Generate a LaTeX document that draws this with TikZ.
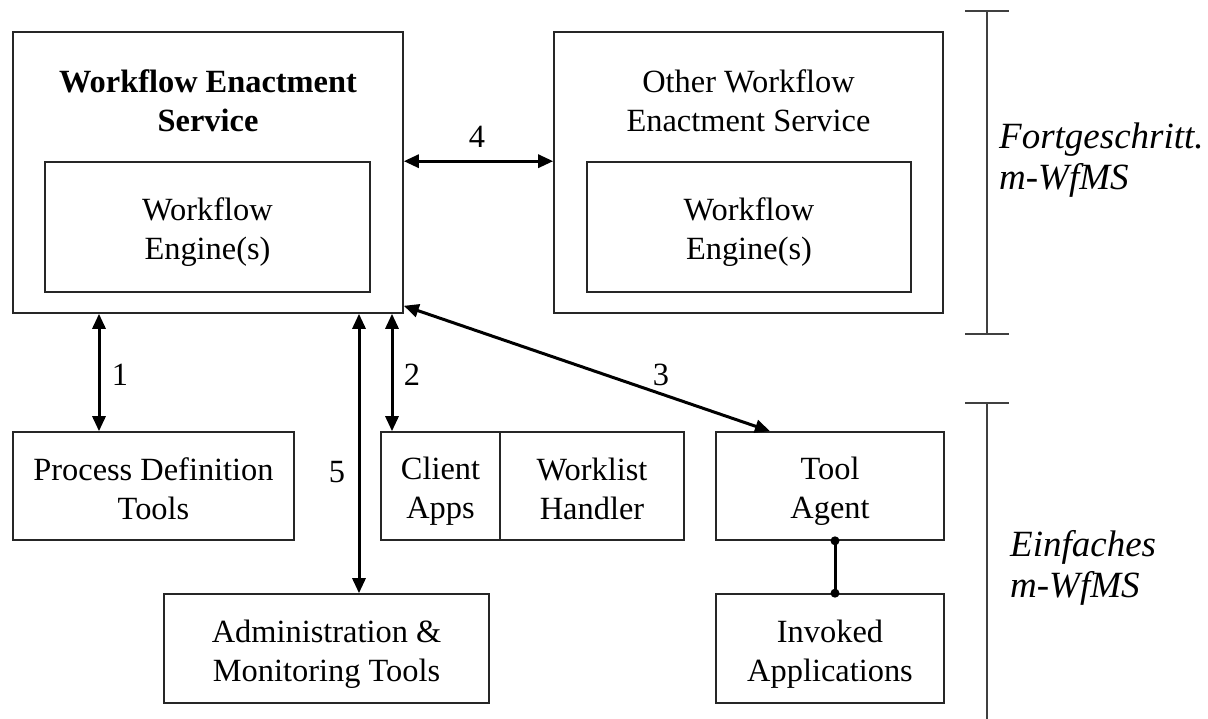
\documentclass[tikz,border=0pt]{standalone}
\usepackage{fontspec}
\setmainfont{Liberation Serif}
\usetikzlibrary{arrows.meta,calc}
\newcommand{\boxline}[1]{\rule[-.15\baselineskip]{0pt}{\baselineskip}#1}
\begin{document}
\begin{tikzpicture}[x=1pt,y=-1pt,
  box/.style={draw=black!85,line width=1.6pt,inner sep=0pt,align=center,
    font=\fontsize{32.4}{39}\selectfont},
  biarrow/.style={line width=3pt,{Triangle[length=15pt,width=13pt]}-{Triangle[length=15pt,width=13pt]}},
  num/.style={font=\fontsize{32.4}{39}\selectfont,inner sep=0pt},
  tag/.style={font=\fontsize{37}{41}\itshape\selectfont,inner sep=0pt,anchor=west,align=left},
  brack/.style={draw=black!75,line width=1.8pt}
]
\useasboundingbox (0,0) rectangle (1208,719);

% main boxes
\node[box,minimum width=390pt,minimum height=281pt] (wes) at (208,172.5) {};
\node[font=\fontsize{32.4}{39}\bfseries\selectfont,align=center,inner sep=0pt] (wesl) at (208,101) {Workflow Enactment\\Service};
\node[box,minimum width=325pt,minimum height=130pt] (we1) at (207.5,227) {\boxline{Workflow}\\\boxline{Engine(s)}};

\node[box,minimum width=389pt,minimum height=281pt] (owes) at (748.5,172.5) {};
\node[font=\fontsize{32.4}{39}\selectfont,align=center,inner sep=0pt] (owesl) at (748.5,101) {Other Workflow\\Enactment Service};
\node[box,minimum width=324pt,minimum height=130pt] (we2) at (749,227) {\boxline{Workflow}\\\boxline{Engine(s)}};

% lower boxes
\node[box,minimum width=281pt,minimum height=108pt] (pdt) at (153.5,486) {\boxline{Process Definition}\\\boxline{Tools}};
\node[box,minimum width=119pt,minimum height=108pt] (client) at (440.5,486) {\boxline{Client}\\\boxline{Apps}};
\node[box,minimum width=184pt,minimum height=108pt] (wl) at (592,486) {\boxline{Worklist}\\\boxline{Handler}};
\node[box,minimum width=228pt,minimum height=108pt] (tool) at (830,486) {\boxline{Tool}\\\boxline{Agent}};
\node[box,minimum width=228pt,minimum height=109pt] (inv) at (830,648.5) {\boxline{Invoked}\\\boxline{Applications}};
\node[box,minimum width=325pt,minimum height=109pt] (admin) at (326.5,648.5) {\boxline{Administration \&}\\\boxline{Monitoring Tools}};

% connector x positions
\coordinate (x1) at (99,0);
\coordinate (x5) at (359,0);
\coordinate (x2) at (392,0);
\coordinate (x3) at (770,0);
\coordinate (xt) at (835,0);

\draw[biarrow] (wes.east |- we1.north) -- (owes.west |- we1.north);
\draw[biarrow] (wes.south -| x1) -- (pdt.north -| x1);
\draw[biarrow] (wes.south -| x5) -- (admin.north -| x5);
\draw[biarrow] (wes.south -| x2) -- (client.north -| x2);
\draw[biarrow] ([yshift=8pt]wes.south east) -- (tool.north -| x3);
\draw[line width=3pt] (tool.south -| xt) -- (inv.north -| xt);
\fill (tool.south -| xt) circle (4.5pt);
\fill (inv.north -| xt) circle (4.5pt);

% labels
\node[num] (l1) at (120,375) {1};
\node[num] (l2) at (412,375) {2};
\node[num] (l3) at (661,375) {3};
\node[num] (l4) at (477,137) {4};
\node[num] (l5) at (337,472) {5};

% brackets
\coordinate (b1t) at (987,11);
\coordinate (b1b) at (987,334);
\coordinate (b2t) at (987,403);
\coordinate (b2b) at (987,719);
\draw[brack] (b1t) -- (b1b);
\draw[brack] ([xshift=-22pt]b1t) -- ([xshift=22pt]b1t);
\draw[brack] ([xshift=-22pt]b1b) -- ([xshift=22pt]b1b);
\draw[brack] (b2t) -- (b2b);
\draw[brack] ([xshift=-22pt]b2t) -- ([xshift=22pt]b2t);

\node[tag] (t1) at (999,160) {Fortgeschritt.\\m-WfMS};
\node[tag] (t2) at (1010,568) {Einfaches\\m-WfMS};
\end{tikzpicture}
\end{document}
